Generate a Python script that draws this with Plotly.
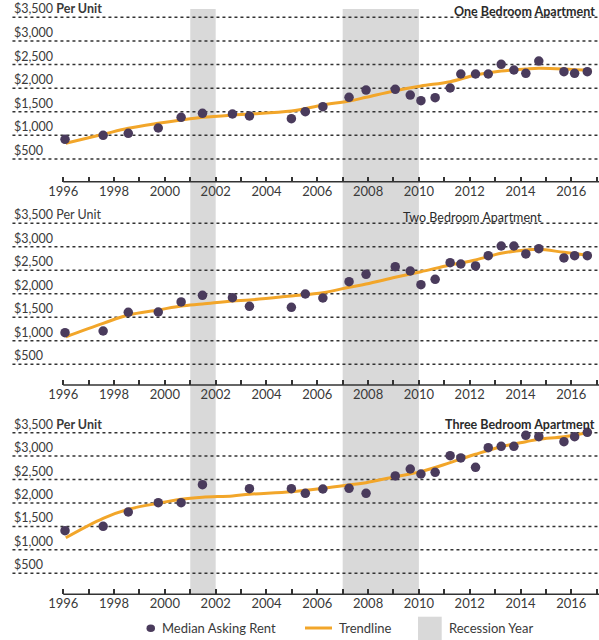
import plotly.graph_objects as go

# ---------------- data ----------------
point_years = [1996.07, 1997.57, 1998.56, 1999.74, 2000.64, 2001.48, 2002.66, 2003.33,
               2004.98, 2005.53, 2006.22, 2007.25, 2007.92, 2009.07, 2009.66, 2010.08,
               2010.64, 2011.23, 2011.65, 2012.23, 2012.73, 2013.24, 2013.74, 2014.21,
               2014.72, 2015.71, 2016.13, 2016.63]
one_bed = [917, 1001, 1044, 1156, 1382, 1467, 1452, 1410, 1353, 1501, 1607, 1806, 1960,
           1975, 1854, 1734, 1797, 2003, 2299, 2299, 2299, 2504, 2384, 2314, 2574, 2348,
           2314, 2348]
two_bed = [1173, 1209, 1607, 1613, 1826, 1968, 1917, 1734, 1713, 1996, 1911, 2258, 2415,
           2577, 2485, 2194, 2309, 2662, 2634, 2592, 2811, 3017, 3017, 2847, 2960, 2762,
           2811, 2811]
three_years = [1996.07, 1997.57, 1998.56, 1999.74, 2000.64, 2001.48, 2003.33,
               2004.98, 2005.53, 2006.22, 2007.25, 2007.92, 2009.07, 2009.66, 2010.08,
               2010.64, 2011.23, 2011.65, 2012.23, 2012.73, 2013.24, 2013.74, 2014.21,
               2014.72, 2015.71, 2016.13, 2016.63]
three_bed = [1408, 1502, 1807, 2006, 2006, 2390, 2305, 2305, 2206, 2298, 2313, 2206, 2576,
             2725, 2618, 2654, 3009, 2960, 2761, 3180, 3209, 3209, 3444, 3414, 3308, 3414,
             3508]

trend_years = [1996.1, 1997.57, 1998.56, 1999.74, 2000.64, 2001.48, 2002.66, 2003.33,
               2004.98, 2006.22, 2007.25, 2007.92, 2009.07, 2010.08, 2011.23, 2012.23,
               2013.24, 2014.21, 2014.72, 2015.71, 2016.8]
one_trend = [832, 1022, 1149, 1255, 1325, 1382, 1431, 1452, 1516, 1643, 1727, 1806, 1946,
             2045, 2136, 2278, 2363, 2405, 2420, 2405, 2369]
two_trend = [1087, 1372, 1549, 1656, 1741, 1783, 1847, 1868, 1954, 2024, 2138, 2209, 2351,
             2471, 2613, 2720, 2862, 2932, 2947, 2883, 2811]
three_trend = [1259, 1673, 1865, 1993, 2078, 2121, 2150, 2185, 2241, 2313, 2384, 2433, 2561,
               2668, 2860, 3039, 3201, 3308, 3360, 3414, 3515]

recessions = [(2001, 2002), (2007, 2010)]
grid_levels = [500, 1000, 1500, 2000, 2500, 3000, 3500]
year_ticks = list(range(1996, 2018))
titles = ["<b>One Bedroom Apartment</b>", "Two Bedroom Apartment", "<b>Three Bedroom Apartment</b>"]
top_labels = ["$3,500 <b>Per Unit</b>", "$3,500 Per Unit", "$3,500 <b>Per Unit</b>"]

# ---------------- style ----------------
W, H = 599, 640
FONT = "Lato, 'Open Sans', sans-serif"
TXT = "#3a3a3a"
DOT = "#4a3b5c"
ORANGE = "#f2a62a"
BAND = "#d9d9d9"

panels = [
    dict(dom=[(H - 181.7) / H, (H - 5) / H], rng=[19, 3760], title_y=11, title_x=596.5, anchor="right"),
    dict(dom=[(H - 385.0) / H, (H - 205) / H], rng=[60, 3889], title_y=217, title_x=472, anchor="center"),
    dict(dom=[(H - 594.3) / H, (H - 415) / H], rng=[51, 3877], title_y=424, title_x=596.5, anchor="right"),
]
XR = [1993.51, 2017.09]

fig = go.Figure()
series = [(point_years, one_bed, one_trend), (point_years, two_bed, two_trend),
          (three_years, three_bed, three_trend)]

shapes = []
annotations = []
for i, (px, py, tr) in enumerate(series):
    n = "" if i == 0 else str(i + 1)
    xa, ya = "x" + n, "y" + n
    fig.add_trace(go.Scatter(x=trend_years, y=tr, mode="lines", xaxis=xa, yaxis=ya,
                             line=dict(color=ORANGE, width=3, shape="spline", smoothing=1.0),
                             hoverinfo="skip", showlegend=False))
    fig.add_trace(go.Scatter(x=px, y=py, mode="markers", xaxis=xa, yaxis=ya,
                             marker=dict(color=DOT, size=9.5, line=dict(width=0)),
                             showlegend=False))
    p = panels[i]
    fig.layout["xaxis" + n] = dict(
        domain=[0, 1], range=XR, anchor=ya, tickmode="array", tickvals=year_ticks,
        ticktext=[str(y) if y % 2 == 0 else "" for y in year_ticks],
        ticks="inside", ticklen=5, tickwidth=1.5, tickcolor="#333",
        showline=False, showgrid=False, zeroline=False,
        tickfont=dict(family=FONT, size=13, color=TXT), fixedrange=True)
    fig.layout["yaxis" + n] = dict(domain=p["dom"], range=p["rng"], anchor=xa,
                                   visible=False, fixedrange=True)
    for v in grid_levels:
        shapes.append(dict(type="line", xref=xa, yref=ya, x0=1994.0, x1=XR[1], y0=v, y1=v,
                           line=dict(color="#333333", width=1.5, dash="dot"), layer="below"))
        label = top_labels[i] if v == 3500 else "${:,}".format(v)
        annotations.append(dict(xref="paper", yref=ya, x=13 / W, y=v, xanchor="left",
                                yanchor="bottom", text=label, showarrow=False,
                                font=dict(family=FONT, size=12.5, color=TXT), borderpad=0))
    shapes.append(dict(type="line", xref=xa, yref=ya + " domain", x0=1996, x1=XR[1], y0=0, y1=0,
                       line=dict(color="#333", width=1.5)))
    annotations.append(dict(xref="paper", yref="paper", x=p["title_x"] / W,
                            y=(H - p["title_y"]) / H, xanchor=p["anchor"], yanchor="middle",
                            text=titles[i], showarrow=False,
                            font=dict(family=FONT, size=12.5, color="#2a2a2a")))

for a, b in recessions:
    shapes.append(dict(type="rect", xref="x", yref="paper", x0=a, x1=b,
                       y0=(H - 595) / H, y1=(H - 9) / H, fillcolor=BAND, line=dict(width=0),
                       layer="below"))

# ---------------- legend (manual) ----------------
ly = (H - 628) / H
shapes.append(dict(type="circle", xref="paper", yref="paper", x0=146.5 / W, x1=155 / W,
                   y0=(H - 632) / H, y1=(H - 624.5) / H, fillcolor=DOT, line=dict(width=0)))
shapes.append(dict(type="line", xref="paper", yref="paper", x0=305 / W, x1=332 / W,
                   y0=ly, y1=ly, line=dict(color=ORANGE, width=3)))
shapes.append(dict(type="rect", xref="paper", yref="paper", x0=418 / W, x1=441.7 / W,
                   y0=0, y1=(H - 616.7) / H, fillcolor=BAND, line=dict(width=0)))
for x0, t in [(160, "Median Asking Rent"), (336.5, "Trendline"), (446.5, "Recession Year")]:
    annotations.append(dict(xref="paper", yref="paper", x=x0 / W, y=ly, xanchor="left",
                            yanchor="middle", text=t, showarrow=False,
                            font=dict(family=FONT, size=13, color=TXT)))

fig.update_layout(width=W, height=H, margin=dict(l=0, r=0, t=0, b=0),
                  paper_bgcolor="white", plot_bgcolor="rgba(0,0,0,0)",
                  shapes=shapes, annotations=annotations, showlegend=False,
                  font=dict(family=FONT, color=TXT))
fig.write_html("out.html")
